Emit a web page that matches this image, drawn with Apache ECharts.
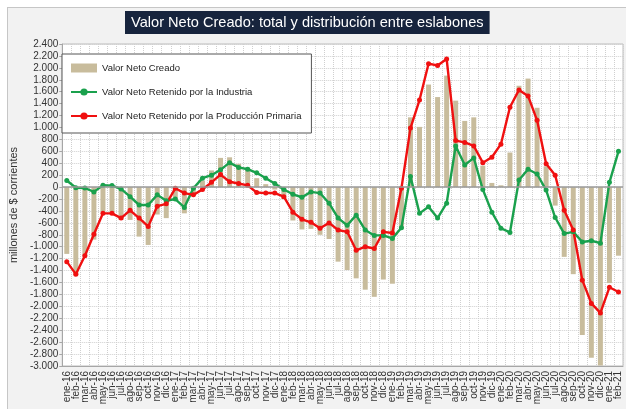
<!DOCTYPE html>
<html>
<head>
<meta charset="utf-8">
<script src="https://cdn.jsdelivr.net/npm/echarts@6/dist/echarts.min.js"></script>
<style>
  body { margin: 0; background: #fff; }
  .frame { position: absolute; left: 7px; top: 7px; width: 640px; height: 420px; background: #f2f2f2; border: 1px solid #c6c6c6; }
  #chart { position: absolute; left: 0; top: 0; width: 626px; height: 409px; }
</style>
</head>
<body>
<div class="frame"></div>
<div id="chart"></div>
<script>
// meses ene-16 .. feb-21
const months = [
  'ene-16','feb-16','mar-16','abr-16','may-16','jun-16','jul-16','ago-16','sep-16','oct-16','nov-16','dic-16',
  'ene-17','feb-17','mar-17','abr-17','may-17','jun-17','jul-17','ago-17','sep-17','oct-17','nov-17','dic-17',
  'ene-18','feb-18','mar-18','abr-18','may-18','jun-18','jul-18','ago-18','sep-18','oct-18','nov-18','dic-18',
  'ene-19','feb-19','mar-19','abr-19','may-19','jun-19','jul-19','ago-19','sep-19','oct-19','nov-19','dic-19',
  'ene-20','feb-20','mar-20','abr-20','may-20','jun-20','jul-20','ago-20','sep-20','oct-20','nov-20','dic-20',
  'ene-21','feb-21'
]

// Valor Neto Creado (barras)
const valorNetoCreado = [
  -1120, -1480, -1160, -880, -410, -420, -550, -550, -830, -970, -460, -520,
  -230, -440, -150, 110, 280, 490, 500, 390, 330, 150, 50, -40,
  -200, -560, -710, -700, -800, -870, -1250, -1390, -1530, -1720, -1840, -1550,
  -1620, -700, 1170, 1010, 1720, 1510, 1870, 1450, 1110, 1170, 360, 70,
  30, 580, 1700, 1820, 1330, 350, -310, -1170, -1460, -2480, -2860, -2990,
  -1610, -1150
]

// Valor Neto Retenido por la Industria
const retenidoIndustria = [
  110, -10, -15, -80, 30, 25, -30, -160, -300, -300, -130, -230,
  -200, -340, -20, 150, 200, 290, 410, 330, 300, 240, 150, 60,
  -40, -120, -170, -80, -100, -270, -520, -640, -470, -720, -810, -810,
  -860, -680, 180, -440, -330, -520, -270, 690, 370, 490, -40, -420,
  -690, -760, 120, 300, 220, -50, -510, -780, -750, -920, -900, -940,
  80, 600
]

// Valor Neto Retenido por la Producción Primaria
const retenidoPrimaria = [
  -1250, -1460, -1150, -790, -440, -440, -520, -390, -520, -660, -320, -280,
  -20, -100, -130, -40, 80, 210, 90, 60, 30, -90, -100, -100,
  -160, -420, -540, -590, -690, -600, -720, -750, -1060, -1000, -1030, -750,
  -770, -20, 990, 1460, 2070, 2040, 2150, 780, 750, 690, 410, 500,
  720, 1340, 1630, 1530, 1120, 390, 200, -390, -720, -1560, -1950, -2110,
  -1680, -1760
]

const FONT = "'Liberation Sans', Arial, sans-serif"

// 2400 -> 2.400
const fmt = v => {
  const s = String(Math.abs(v))
  const t = s.length > 3 ? s.slice(0, -3) + '.' + s.slice(-3) : s
  return (v < 0 ? '-' : '') + t
}

const chart = echarts.init(document.getElementById('chart'))

const option = {
  animation: false,
  backgroundColor: 'transparent',
  textStyle: { fontFamily: FONT },
  title: {
    text: 'Valor Neto Creado: total y distribución entre eslabones',
    left: 125,
    top: 11,
    padding: [4, 6, 4, 6],
    backgroundColor: '#17243d',
    textStyle: { color: '#fff', fontSize: 14.6, fontWeight: 'normal', fontFamily: FONT }
  },
  legend: {
    orient: 'vertical',
    left: 62,
    top: 54,
    padding: [9, 10, 12, 8],
    itemGap: 14,
    itemWidth: 26,
    itemHeight: 9,
    backgroundColor: '#fff',
    borderColor: '#555',
    borderWidth: 1,
    textStyle: { fontSize: 9.5, color: '#222', fontFamily: FONT },
    data: [
      { name: 'Valor Neto Creado', icon: 'rect' },
      'Valor Neto Retenido por la Industria',
      'Valor Neto Retenido por la Producción Primaria'
    ]
  },
  grid: {
    left: 57, right: 3, top: 44, bottom: 43,
    show: true, backgroundColor: '#fff', borderColor: '#bdbdbd', borderWidth: 1
  },
  xAxis: {
    type: 'category',
    data: months,
    axisLine: { onZero: false, lineStyle: { color: '#a6a6a6' } },
    axisTick: { show: false },
    splitLine: { show: true, interval: 0, lineStyle: { color: '#cfcfcf', type: 'dotted' } },
    axisLabel: { rotate: 90, interval: 0, fontSize: 10, color: '#333', margin: 5, fontFamily: FONT }
  },
  yAxis: {
    type: 'value',
    min: -3000,
    max: 2400,
    interval: 200,
    name: 'millones de $ corrientes',
    nameLocation: 'middle',
    nameGap: 33,
    nameTextStyle: { fontSize: 11, color: '#333', fontFamily: FONT },
    axisLine: { show: true, lineStyle: { color: '#a6a6a6' } },
    axisTick: { show: true, length: 3, lineStyle: { color: '#a6a6a6' } },
    splitLine: { show: true, lineStyle: { color: '#cfcfcf', type: 'dotted' } },
    axisLabel: { fontSize: 10, color: '#333', margin: 4, formatter: fmt, fontFamily: FONT }
  },
  series: [
    {
      name: 'Valor Neto Creado',
      type: 'bar',
      data: valorNetoCreado,
      barWidth: '55%',
      itemStyle: { color: '#c8bc9c' },
      markLine: {
        silent: true,
        symbol: 'none',
        label: { show: false },
        lineStyle: { color: '#9a9a9a', type: 'solid', width: 1.5 },
        data: [{ yAxis: 0 }]
      }
    },
    {
      name: 'Valor Neto Retenido por la Industria',
      type: 'line',
      data: retenidoIndustria,
      symbol: 'circle',
      symbolSize: 5,
      lineStyle: { color: '#1aa14d', width: 2.4 },
      itemStyle: { color: '#1aa14d' }
    },
    {
      name: 'Valor Neto Retenido por la Producción Primaria',
      type: 'line',
      data: retenidoPrimaria,
      symbol: 'circle',
      symbolSize: 5,
      lineStyle: { color: '#f01010', width: 2.4 },
      itemStyle: { color: '#f01010' }
    }
  ]
}

chart.setOption(option)
window.addEventListener('resize', () => chart.resize())
</script>
</body>
</html>
